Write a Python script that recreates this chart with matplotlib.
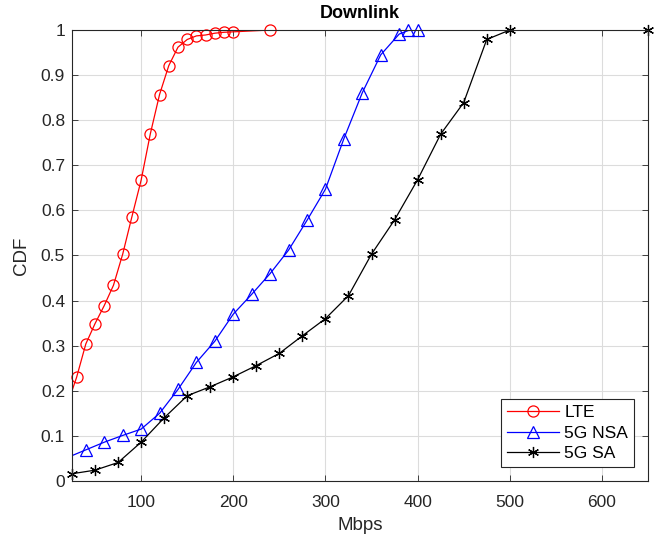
import numpy as np
import matplotlib.pyplot as plt
from matplotlib.lines import Line2D

plt.rcParams['font.family'] = ['Liberation Sans', 'DejaVu Sans']
plt.rcParams['xtick.direction'] = 'in'
plt.rcParams['ytick.direction'] = 'in'
plt.rcParams['xtick.top'] = True
plt.rcParams['ytick.right'] = True

# LTE
lte_x = [20, 30, 40, 50, 60, 70, 80, 90, 100, 110, 120, 130, 140, 150, 160, 170, 180, 190, 200, 240]
lte_y = [0.17, 0.23, 0.304, 0.349, 0.389, 0.434, 0.503, 0.586, 0.667, 0.770, 0.857, 0.921, 0.962,
         0.979, 0.987, 0.989, 0.993, 0.995, 0.996, 1.0]

# 5G NSA
nsa_x = [20, 40, 60, 80, 100, 120, 140, 160, 180, 200, 220, 240, 260, 280, 300, 320, 340, 360,
         380, 390, 400]
nsa_y = [0.052, 0.069, 0.086, 0.101, 0.115, 0.150, 0.203, 0.263, 0.310, 0.370, 0.414, 0.460,
         0.512, 0.578, 0.647, 0.759, 0.861, 0.945, 0.991, 0.999, 1.0]

# 5G SA
sa_x = [25, 50, 75, 100, 125, 150, 175, 200, 225, 250, 275, 300, 325, 350, 375, 400, 425, 450,
        475, 500, 650]
sa_y = [0.016, 0.024, 0.041, 0.086, 0.140, 0.189, 0.209, 0.231, 0.256, 0.283, 0.322, 0.360,
        0.411, 0.503, 0.579, 0.668, 0.769, 0.839, 0.979, 1.0, 1.0]

xmin, xmax = 25, 650

fig = plt.figure(figsize=(6.57, 5.38), dpi=100)
ax = fig.add_axes([0.1096, 0.106, 0.8767, 0.8382])

series = [
    (lte_x, lte_y, 'red', 'o', 8, 'LTE'),
    (nsa_x, nsa_y, 'blue', '^', 9, '5G NSA'),
    (sa_x, sa_y, 'black', (6, 2, 0), 8, '5G SA'),
]
handles = []
for xs, ys, c, m, ms, lab in series:
    xs = np.array(xs)
    ys = np.array(ys)
    # line clipped to the axes, markers inside the limits drawn whole
    ax.plot(xs, ys, color=c, lw=0.9)
    keep = (xs >= xmin) & (xs <= xmax)
    ax.plot(xs[keep], ys[keep], ls='none', marker=m, ms=ms, mfc='none', mec=c, mew=0.9,
            clip_on=False)
    handles.append(Line2D([], [], color=c, lw=0.9, marker=m, ms=ms, mfc='none', mec=c,
                          mew=0.9, label=lab))

ax.set_xlim(xmin, xmax)
ax.set_ylim(0, 1)
ax.set_xticks([100, 200, 300, 400, 500, 600])
ax.set_yticks(np.arange(0, 1.01, 0.1))
ax.set_yticklabels(['0', '0.1', '0.2', '0.3', '0.4', '0.5', '0.6', '0.7', '0.8', '0.9', '1'])
ax.tick_params(labelsize=12.5, colors='#262626', length=4, width=0.6)
ax.tick_params(axis='x', pad=10)
ax.tick_params(axis='y', pad=5)
ax.grid(True, color='#dcdcdc', lw=0.8)
ax.set_axisbelow(True)
for s in ax.spines.values():
    s.set_color('#262626')
    s.set_linewidth(0.8)

ax.set_title('Downlink', fontsize=13, fontweight='bold', pad=9)
ax.set_xlabel('Mbps', fontsize=13.5, color='#262626', labelpad=5)
ax.set_ylabel('CDF', fontsize=13.5, color='#262626', labelpad=8)

leg = ax.legend(handles=handles, loc='lower right', fontsize=12.5, fancybox=False,
                edgecolor='#262626', framealpha=1, borderaxespad=0.8, handlelength=3,
                borderpad=0.35, labelspacing=0.3, handletextpad=0.3)
leg.get_frame().set_linewidth(0.8)
leg.set_zorder(5)

fig.savefig('out.png', dpi=100)
